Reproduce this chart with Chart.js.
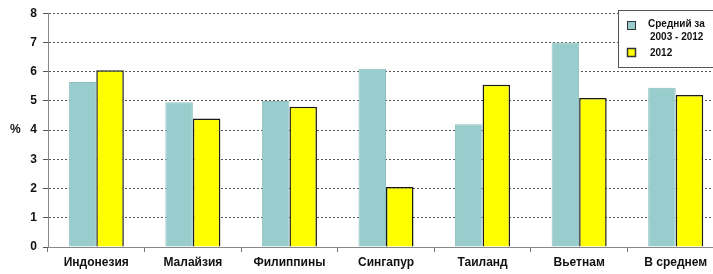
<!DOCTYPE html>
<html>
<head>
<meta charset="utf-8">
<script src="https://cdn.jsdelivr.net/npm/chart.js@4/dist/chart.umd.min.js"></script>
<style>
  html, body { margin: 0; padding: 0; background: #fff; overflow: hidden; }
  #wrap { width: 724px; height: 274px; position: relative; }
</style>
</head>
<body>
<div id="wrap"><canvas id="chart"></canvas></div>
<script>
const countries = ['Индонезия', 'Малайзия', 'Филиппины', 'Сингапур', 'Таиланд', 'Вьетнам', 'В среднем'];
const avg2003_2012 = [5.65, 4.95, 5.0, 6.1, 4.2, 7.0, 5.45];
const year2012 = [6.05, 4.4, 4.8, 2.05, 5.55, 5.1, 5.2];
const yTicks = [0, 1, 2, 3, 4, 5, 6, 7, 8];

const font = "'Liberation Sans', Arial, sans-serif";

// legend box drawn inside the plot, plus the "%" axis label
const extras = {
  id: 'extras',
  afterDraw(chart) {
    const ctx = chart.ctx;
    ctx.save();
    ctx.font = 'bold 12px ' + font;
    ctx.fillStyle = '#111';
    ctx.textBaseline = 'middle';
    ctx.fillText('%', 10, chart.scales.y.getPixelForValue(4));

    const x = 618, y = 10, w = 110, h = 57;
    ctx.fillStyle = '#fff';
    ctx.fillRect(x, y, w, h);
    ctx.strokeStyle = '#555';
    ctx.lineWidth = 1;
    ctx.strokeRect(x + 0.5, y + 0.5, w, h);

    ctx.fillStyle = '#99cccc';
    ctx.fillRect(627, 21, 9, 9);
    ctx.strokeStyle = '#333';
    ctx.strokeRect(627.5, 21.5, 8, 8);
    ctx.fillStyle = '#ffff00';
    ctx.fillRect(627, 48, 9, 9);
    ctx.lineWidth = 1.5;
    ctx.strokeRect(627.5, 48.5, 8, 8);

    ctx.fillStyle = '#111';
    ctx.font = 'bold 10px ' + font;
    ctx.textAlign = 'left';
    ctx.fillText('Средний за', 648, 24);
    ctx.fillText('2003 - 2012', 650, 37);
    ctx.fillText('2012', 650, 53);
    ctx.restore();
  }
};

new Chart(document.getElementById('chart'), {
  type: 'bar',
  data: {
    labels: countries,
    datasets: [{
      label: 'Средний за 2003 - 2012',
      data: avg2003_2012,
      backgroundColor: '#99cccc',
      borderColor: '#8fbfbf',
      borderWidth: 1
    }, {
      label: '2012',
      data: year2012,
      backgroundColor: '#ffff00',
      borderColor: '#1a1a1a',
      borderWidth: 1.5
    }]
  },
  options: {
    responsive: true,
    maintainAspectRatio: false,
    animation: false,
    layout: { padding: { top: 7, right: 0, left: 0, bottom: 0 } },
    datasets: { bar: { categoryPercentage: 0.57, barPercentage: 1 } },
    plugins: {
      legend: { display: false },
      tooltip: { enabled: false }
    },
    scales: {
      x: {
        offset: true,
        afterFit(scale) { scale.height = 27; },
        grid: {
          offset: true,
          drawOnChartArea: false,
          drawTicks: true,
          tickLength: 5,
          color: '#777'
        },
        border: { color: '#888', width: 1 },
        ticks: {
          color: '#111',
          font: { family: font, size: 12, weight: 'bold' },
          padding: 3,
          maxRotation: 0
        }
      },
      y: {
        min: 0,
        max: 8,
        afterFit(scale) { scale.width = 48; },
        afterBuildTicks(scale) { scale.ticks = yTicks.map(v => ({ value: v })); },
        grid: {
          color: '#555',
          drawTicks: true,
          tickLength: 5,
          lineWidth: 1
        },
        border: { color: '#888', width: 1, dash: [2, 2] },
        ticks: {
          color: '#111',
          font: { family: font, size: 12, weight: 'bold' },
          padding: 6
        }
      }
    }
  },
  plugins: [extras]
});
</script>
</body>
</html>
